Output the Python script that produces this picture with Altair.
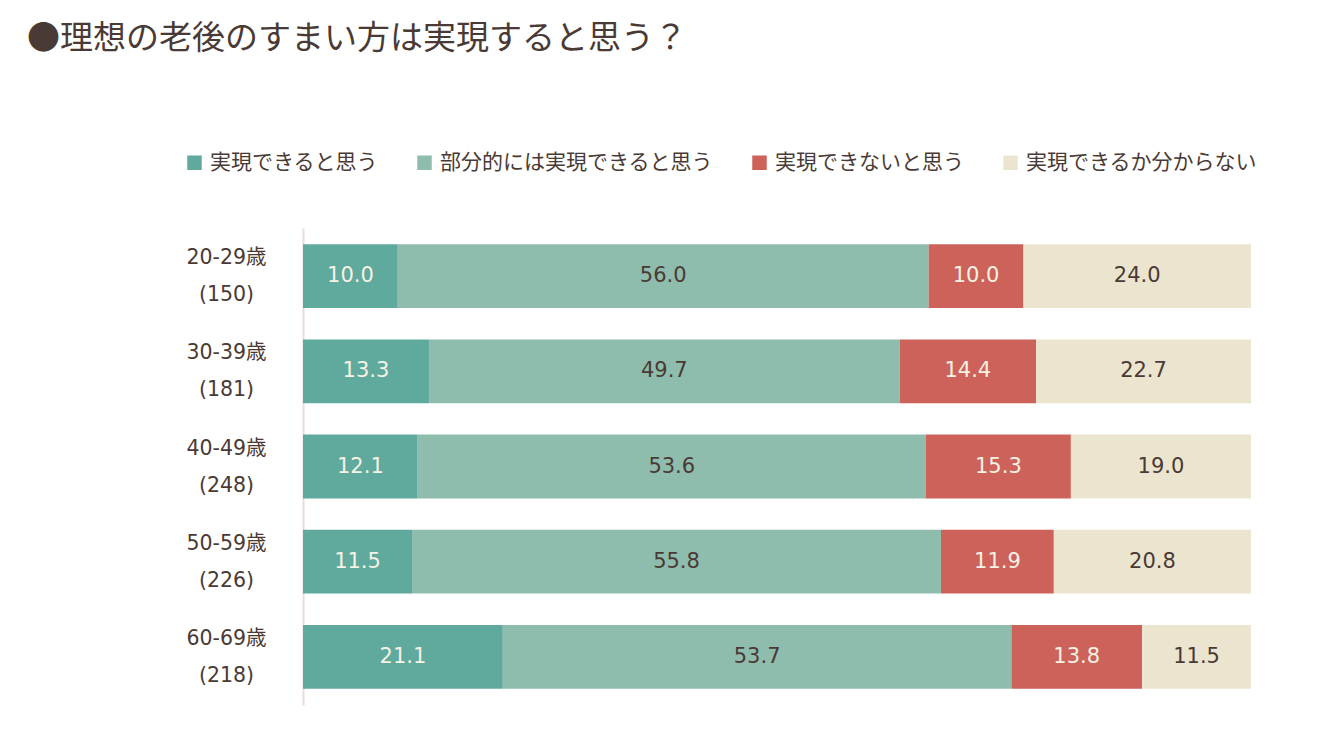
import altair as alt
import pandas as pd

# Age groups and respondent counts
ages = ["20-29歳", "30-39歳", "40-49歳", "50-59歳", "60-69歳"]
counts = [150, 181, 248, 226, 218]

# Answer categories, in stacking order
answers = ["実現できると思う", "部分的には実現できると思う", "実現できないと思う", "実現できるか分からない"]
bar_colors = ["#5fa99d", "#8fbdad", "#cd625a", "#ebe5cf"]
label_colors = ["#f6f2e4", "#4a3a35", "#f6f2e4", "#4a3a35"]

# Share of each answer (%) per age group
shares = [
    [10.0, 56.0, 10.0, 24.0],
    [13.3, 49.7, 14.4, 22.7],
    [12.1, 53.6, 15.3, 19.0],
    [11.5, 55.8, 11.9, 20.8],
    [21.1, 53.7, 13.8, 11.5],
]

groups = [f"{a}|({n})" for a, n in zip(ages, counts)]
rows = []
for g, vals in zip(groups, shares):
    for i, (ans, v) in enumerate(zip(answers, vals)):
        rows.append({"group": g, "answer": ans, "order": i, "value": v,
                     "tcolor": label_colors[i]})
df = pd.DataFrame(rows)

FONT = "Noto Sans CJK JP"
NUM_FONT = "DejaVu Sans, Noto Sans CJK JP"
BROWN = "#4a3a35"

base = alt.Chart(df).transform_stack(
    stack="value",
    groupby=["group"],
    as_=["x0", "x1"],
    offset="normalize",
    sort=[alt.SortField("order", order="ascending")],
)

y_enc = alt.Y(
    "group:N",
    sort=groups,
    title=None,
    scale=alt.Scale(paddingInner=0.33, paddingOuter=0.17),
    axis=alt.Axis(
        labelExpr="split(datum.label, '|')",
        labelLineHeight=37,
        labelAlign="center",
        labelBaseline="middle",
        labelOffset=-18,
        labelPadding=77,
        labelFontSize=20.5,
        labelFont=NUM_FONT,
        labelColor=BROWN,
        ticks=False,
        domain=True,
        domainColor="#e9dcd9",
        domainWidth=2,
        grid=False,
    ),
)

bars = base.mark_bar().encode(
    y=y_enc,
    x=alt.X("x0:Q", scale=alt.Scale(domain=[0, 1]), axis=None),
    x2="x1:Q",
    color=alt.Color(
        "answer:N",
        scale=alt.Scale(domain=answers, range=bar_colors),
        legend=alt.Legend(
            title=None,
            orient="none",
            direction="horizontal",
            columns=4,
            legendX=-119,
            legendY=-76,
            symbolType="square",
            symbolSize=210,
            symbolStrokeWidth=0,
            labelFont=FONT,
            labelFontSize=21,
            labelColor=BROWN,
            labelOffset=5,
            labelLimit=0,
            columnPadding=36,
        ),
    ),
)

labels = base.transform_calculate(mid="(datum.x0 + datum.x1) / 2").mark_text(
    font=NUM_FONT, fontSize=21
).encode(
    y=alt.Y("group:N", sort=groups),
    x=alt.X("mid:Q"),
    text=alt.Text("value:Q", format=".1f"),
    color=alt.Color("tcolor:N", scale=None),
)

chart = alt.layer(bars, labels).properties(
    width=948,
    height=477,
    background="white",
    autosize=alt.AutoSizeParams(type="none"),
    padding={"left": 303, "top": 228, "right": 70, "bottom": 25},
    title=alt.TitleParams(
        text="●理想の老後のすまい方は実現すると思う？",
        anchor="start",
        frame="group",
        font=FONT,
        fontSize=33,
        fontWeight="normal",
        color=BROWN,
        dx=-276,
        offset=96,
    ),
).configure_view(strokeWidth=0, stroke=None)

chart.save("out.html", embed_options={"renderer": "svg", "actions": False})
